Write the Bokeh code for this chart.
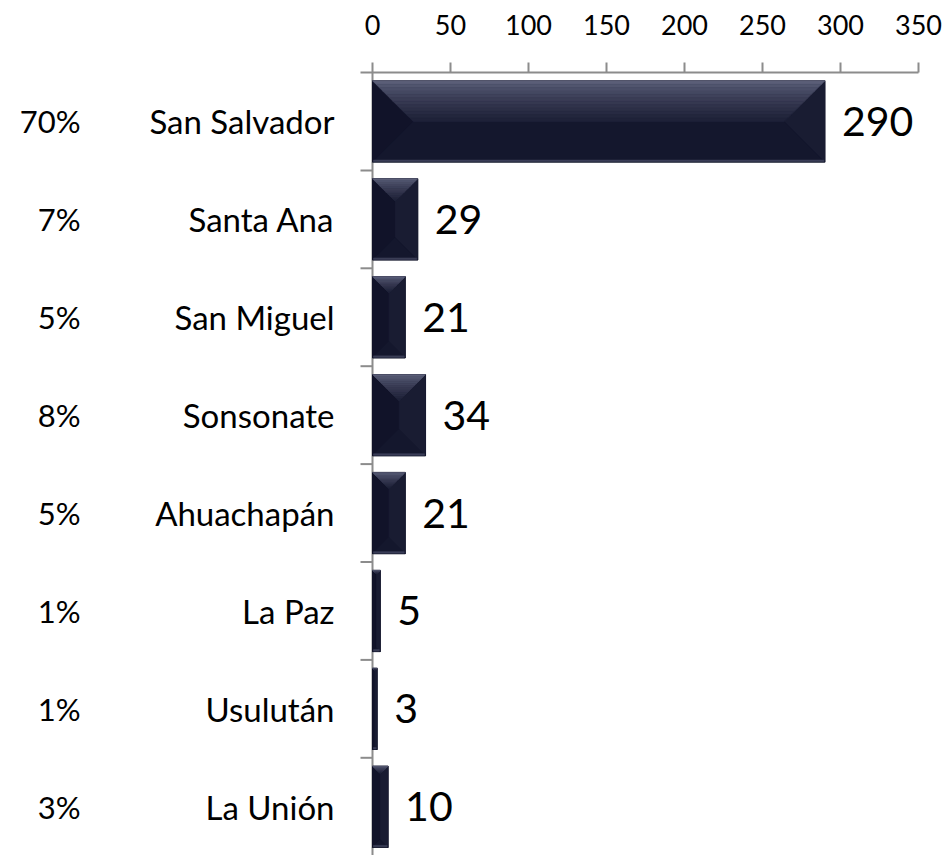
from bokeh.plotting import figure
from bokeh.models import Range1d, FixedTicker, ColumnDataSource
from bokeh.core.properties import value
from bokeh.embed import file_html
from bokeh.resources import INLINE

# ---------------- data ----------------
categories = ["San Salvador", "Santa Ana", "San Miguel", "Sonsonate",
              "Ahuachapán", "La Paz", "Usulután", "La Unión"]
counts = [290, 29, 21, 34, 21, 5, 3, 10]
percents = ["70%", "7%", "5%", "8%", "5%", "1%", "1%", "3%"]
x_ticks = [0, 50, 100, 150, 200, 250, 300, 350]

# ---------------- layout (pixels) ----------------
W_FIG, H_FIG = 947, 855
TOP_BORDER = 72
ZERO_PX = 372          # distance of value 0 from the frame's left edge
PX_PER_UNIT = 1.56
BAND_PX = 97.9
BAR_FRAC = 0.83

x_start = -ZERO_PX / PX_PER_UNIT
x_end = x_start + W_FIG / PX_PER_UNIT
frame_h = H_FIG - TOP_BORDER
y_top = -0.5
y_bottom = y_top + frame_h / BAND_PX

ux = 1.0 / PX_PER_UNIT   # data units per pixel (x)
uy = 1.0 / BAND_PX       # data units per pixel (y)

FONT = "Lato"
AXIS_GREY = "#8c8c8c"

p = figure(width=W_FIG, height=H_FIG, output_backend="svg", toolbar_location=None,
           x_range=Range1d(x_start, x_end), y_range=Range1d(y_bottom, y_top),
           x_axis_location="above", y_axis_location=None,
           min_border_left=0, min_border_right=0, min_border_top=TOP_BORDER,
           min_border_bottom=0)
p.outline_line_color = None
p.xgrid.visible = False
p.ygrid.visible = False
p.background_fill_color = "white"
p.border_fill_color = "white"

ax = p.xaxis[0]
ax.ticker = FixedTicker(ticks=x_ticks)
ax.bounds = (-12 * ux, x_ticks[-1])
ax.axis_line_color = AXIS_GREY
ax.axis_line_width = 2
ax.major_tick_line_color = AXIS_GREY
ax.major_tick_line_width = 2
ax.major_tick_out = 10
ax.major_tick_in = 0
ax.minor_tick_line_color = None
ax.major_label_text_font = FONT
ax.major_label_text_font_size = "27px"
ax.major_label_text_color = "black"
ax.major_label_standoff = 28

idx = list(range(len(categories)))

# left axis line and category separators
p.segment(x0=[0], y0=[y_top], x1=[0], y1=[y_bottom], line_color=AXIS_GREY, line_width=2)
sep_y = [i + 0.5 for i in idx[:-1]]
p.segment(x0=[-12 * ux] * len(sep_y), y0=sep_y, x1=[0] * len(sep_y), y1=sep_y,
          line_color=AXIS_GREY, line_width=2)

# base bars
src = ColumnDataSource(dict(y=idx, v=counts))
p.hbar(y="y", left=0, right="v", height=BAR_FRAC, source=src,
       fill_color="#171a30", line_color="#0e1024", line_width=1)

# bevel shading, computed from each bar's value
def lerp(c1, c2, t):
    a = [int(c1[i:i + 2], 16) for i in (1, 3, 5)]
    b = [int(c2[i:i + 2], 16) for i in (1, 3, 5)]
    return "#%02x%02x%02x" % tuple(int(round(a[k] + (b[k] - a[k]) * t)) for k in range(3))

H = BAR_FRAC * BAND_PX
xs, ys, cols = [], [], []
for i, v in zip(idx, counts):
    Wp = v * PX_PER_UNIT
    b = min(Wp / 2.0, H / 2.0)
    top = i - BAR_FRAC / 2.0

    def poly(pts):
        return [px * ux for px, _ in pts], [top + py * uy for _, py in pts]

    # left, right, bottom regions
    for pts, c in [
        ([(0, 0), (b, b), (b, H - b), (0, H)], "#111329"),
        ([(Wp, 0), (Wp - b, b), (Wp - b, H - b), (Wp, H)], "#191c32"),
        ([(0, H), (Wp, H), (Wp - b, H - b), (b, H - b)], "#14172d"),
    ]:
        X, Y = poly(pts)
        xs.append(X); ys.append(Y); cols.append(c)
    # top region as gradient slices
    N = 12
    for k in range(N):
        d0, d1 = b * k / N, b * (k + 1) / N
        X, Y = poly([(d0, d0), (Wp - d0, d0), (Wp - d1, d1), (d1, d1)])
        t = ((k + 0.5) / N) ** 0.7
        xs.append(X); ys.append(Y); cols.append(lerp("#61657f", "#1d2037", t))
    # thin light bottom edge
    X, Y = poly([(1, H - 2), (Wp - 1, H - 2), (Wp - 1, H - 0.5), (1, H - 0.5)])
    xs.append(X); ys.append(Y); cols.append("#3b3e57")

p.patches(xs=xs, ys=ys, fill_color=cols, line_color=cols, line_width=0.6)

# value labels
val_src = ColumnDataSource(dict(x=[v + 17 * ux for v in counts], y=idx,
                                t=[str(v) for v in counts]))
p.text(x="x", y="y", text="t", source=val_src, text_font=value(FONT),
       text_font_size="41px", text_baseline="middle", text_align="left", text_color="black")

# category labels
cat_src = ColumnDataSource(dict(x=[-38 * ux] * len(idx), y=idx, t=categories))
p.text(x="x", y="y", text="t", source=cat_src, text_font=value(FONT),
       text_font_size="33px", text_baseline="middle", text_align="right", text_color="black")

# percent labels
pct_src = ColumnDataSource(dict(x=[-292 * ux] * len(idx), y=idx, t=percents))
p.text(x="x", y="y", text="t", source=pct_src, text_font=value(FONT),
       text_font_size="31px", text_baseline="middle", text_align="right", text_color="black")

open("out.html", "w").write(file_html(p, INLINE))
